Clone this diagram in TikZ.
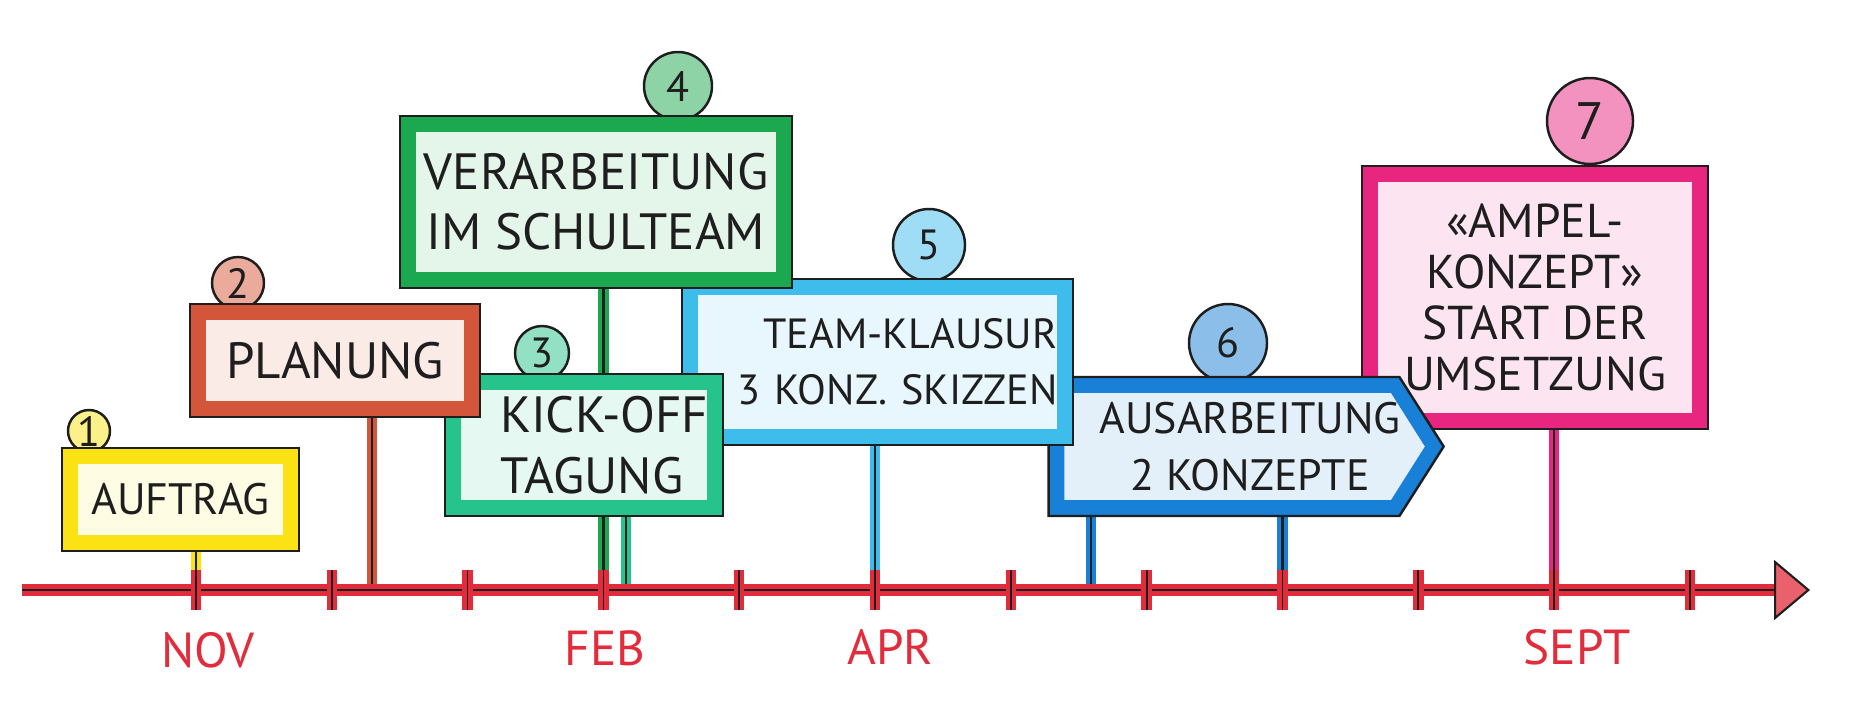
\documentclass[tikz,border=0pt]{standalone}
\usepackage{fontspec}
\setmainfont{PT Sans}
\usetikzlibrary{arrows.meta,calc,positioning,shapes.symbols}
\definecolor{AuftragYellow}{RGB}{250,226,20}
\definecolor{PlanungRed}{RGB}{212,86,58}
\definecolor{KickoffGreen}{RGB}{38,196,140}
\definecolor{TeamGreen}{RGB}{28,168,78}
\definecolor{KlausurBlue}{RGB}{62,188,235}
\definecolor{KonzeptBlue}{RGB}{24,128,214}
\definecolor{AmpelPink}{RGB}{232,38,128}
\definecolor{AxisRed}{RGB}{226,44,60}
\definecolor{Ink}{RGB}{30,30,30}
\pgfdeclarelayer{bg}
\pgfsetlayers{bg,main}
\tikzset{
  sign/.style={draw=Ink, line width=.7pt, fill=#1!12, text=Ink, align=center,
    inner sep=2pt, font=\fontsize{14}{17}\selectfont,
    path picture={\draw[#1, line width=9pt] (path picture bounding box.south west)
      rectangle (path picture bounding box.north east);}},
  arrowsign/.style={signal, signal to=east, signal pointer angle=115,
    draw=Ink, line width=.7pt, fill=#1!12, text=Ink,
    path picture={\draw[#1, line width=9pt] (path picture bounding box.north west)
      -- ($(path picture bounding box.north east)+(-.44,0)$)
      -- ($(path picture bounding box.north east)!.5!(path picture bounding box.south east)$)
      -- ($(path picture bounding box.south east)+(-.44,0)$)
      -- (path picture bounding box.south west) -- cycle;}},
  badge/.style={circle, draw=Ink, line width=.7pt, fill=#1!50, text=Ink,
    inner sep=0pt, font=\fontsize{12}{14}\selectfont},
  post/.style={draw=Ink, line width=.7pt, preaction={draw=#1, line width=3pt}},
  monthtick/.style={draw=Ink, line width=.5pt, preaction={draw=AxisRed, line width=3pt}},
  month/.style={text=AxisRed, font=\fontsize{14}{16}\selectfont}
}
\begin{document}
\begin{tikzpicture}
  \useasboundingbox (0,0) rectangle (18.6,7.06);
  \begin{pgfonlayer}{bg}
    \fill[white] (0,0) rectangle (18.6,7.06);
  \end{pgfonlayer}

  % time axis
  \coordinate (ax0) at (0.22,1.16);
  \coordinate (ax1) at (18.1,1.16);
  \draw[AxisRed, line width=3.5pt] (ax0) -- ($(ax1)+(-.3,0)$);
  \draw[Ink, line width=.6pt, -{Triangle[length=.36cm,width=.6cm,fill=AxisRed!75]}] (ax0) -- (ax1);
  \foreach \k in {0,...,11}{
    \coordinate (t\k) at ({1.96+1.358*\k},1.16);
    \draw[monthtick] ($(t\k)+(0,-.2)$) -- ($(t\k)+(0,.2)$);
  }
  \coordinate (p2) at (3.72,1.16);
  \coordinate (p3) at (6.26,1.16);
  \coordinate (p6) at (10.91,1.16);

  \node[month] (nov)  at (2.08,0.56) {NOV};
  \node[month] (feb)  at (6.05,0.58) {FEB};
  \node[month] (apr)  at (8.90,0.59) {APR};
  \node[month] (sept) at (15.77,0.59) {SEPT};

  % number badges
  \node[badge=AuftragYellow, minimum size=.42cm] (n1) at (0.89,2.75) {1};
  \node[badge=PlanungRed, minimum size=.52cm] (n2) at (2.38,4.23) {2};
  \node[badge=KickoffGreen, minimum size=.54cm] (n3) at (5.42,3.53) {3};
  \node[badge=TeamGreen, minimum size=.68cm] (n4) at (6.78,6.20) {4};
  \node[badge=KlausurBlue, minimum size=.72cm] (n5) at (9.29,4.61) {5};
  \node[badge=KonzeptBlue, minimum size=.78cm] (n6) at (12.28,3.63) {6};
  \node[badge=AmpelPink, minimum size=.86cm, font=\fontsize{15}{17}\selectfont] (n7) at (15.90,5.85) {7};

  % signs
  \node[sign=AmpelPink, minimum width=3.46cm, minimum height=2.63cm,
    font=\fontsize{13.5}{14.5}\selectfont] (ampel) at (15.35,4.085)
    {«AMPEL-\\KONZEPT»\\START DER\\UMSETZUNG};
  \node[arrowsign=KonzeptBlue, minimum width=3.95cm, minimum height=1.39cm,
    label={[xshift=.26cm, align=center, text=Ink, font=\fontsize{12.5}{16}\selectfont]center:AUSARBEITUNG\\2 KONZEPTE}]
    (ausarb) at (12.24,2.595) {};
  \node[sign=KlausurBlue, minimum width=3.91cm, minimum height=1.66cm, text width=3.6cm,
    align=right, font=\fontsize{12}{16}\selectfont] (klausur) at (8.775,3.44)
    {TEAM-KLAUSUR\\3 KONZ. SKIZZEN};
  \node[sign=TeamGreen, minimum width=3.92cm, minimum height=1.72cm,
    font=\fontsize{14.5}{17}\selectfont] (schulteam) at (5.96,5.04)
    {VERARBEITUNG\\IM SCHULTEAM};
  \node[sign=KickoffGreen, minimum width=2.78cm, minimum height=1.42cm,
    label={[xshift=.2cm, align=left, text=Ink, font=\fontsize{14.5}{17.5}\selectfont]center:KICK-OFF\\TAGUNG}]
    (kickoff) at (5.84,2.61) {};
  \node[sign=PlanungRed, minimum width=2.90cm, minimum height=1.13cm,
    font=\fontsize{14.5}{17}\selectfont] (planung) at (3.35,3.455) {PLANUNG};
  \node[sign=AuftragYellow, minimum width=2.37cm, minimum height=1.03cm,
    font=\fontsize{12.5}{15}\selectfont] (auftrag) at (1.805,2.065) {AUFTRAG};

  % posts
  \begin{pgfonlayer}{bg}
    \draw[post=AuftragYellow] (auftrag.south -| t0) -- (t0);
    \draw[post=PlanungRed] (planung.south -| p2) -- (p2);
    \draw[post=TeamGreen] (schulteam.south -| t3) -- (t3);
    \draw[post=KickoffGreen] (kickoff.south -| p3) -- (p3);
    \draw[post=KlausurBlue] (klausur.south -| t5) -- (t5);
    \draw[post=KonzeptBlue] (ausarb.south -| p6) -- (p6);
    \draw[post=KonzeptBlue] (ausarb.south -| t8) -- (t8);
    \draw[post=AmpelPink] (ampel.south -| t10) -- (t10);
  \end{pgfonlayer}
\end{tikzpicture}
\end{document}
